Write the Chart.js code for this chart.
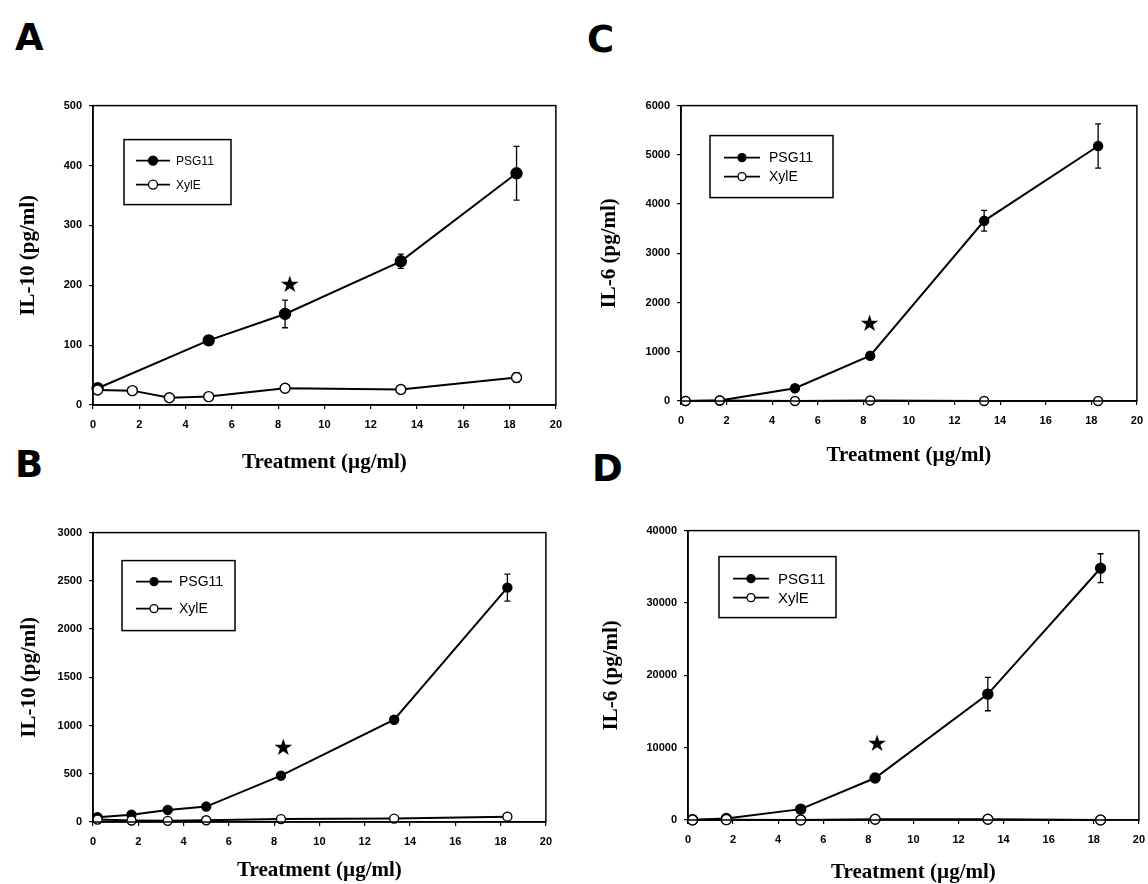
<!DOCTYPE html>
<html>
<head>
<meta charset="utf-8">
<script src="https://cdn.jsdelivr.net/npm/chart.js@4.4.1/dist/chart.umd.min.js"></script>
<style>
  body { margin: 0; background: #fff; width: 1148px; height: 884px; position: relative; overflow: hidden; }
  canvas { position: absolute; }
  .lbl { position: absolute; font: bold 37px "DejaVu Sans", Arial, sans-serif; color: #000; line-height: 1; }
</style>
</head>
<body>
<div class="lbl" style="left:15px;top:19px">A</div>
<div class="lbl" style="left:15px;top:446px">B</div>
<div class="lbl" style="left:587px;top:21px">C</div>
<div class="lbl" style="left:592px;top:450px">D</div>
<canvas id="cA"></canvas>
<canvas id="cB"></canvas>
<canvas id="cC"></canvas>
<canvas id="cD"></canvas>
<script>
// --- data ---
const seriesNames = ['PSG11', 'XylE'];

// A: IL-10, low range
const doseA_psg = [0.2, 5.0, 8.3, 13.3, 18.3];
const il10A_psg = [28, 108, 152, 240, 387];
const il10A_psgErr = [0, 8, 23, 12, 45];
const doseA_xyl = [0.2, 1.7, 3.3, 5.0, 8.3, 13.3, 18.3];
const il10A_xyl = [25, 24, 12, 14, 28, 26, 46];
const il10A_xylErr = [0, 0, 0, 0, 0, 0, 8];
const starA = { x: 8.5, y: 199 };

// B: IL-10, high range
const doseB = [0.2, 1.7, 3.3, 5.0, 8.3, 13.3, 18.3];
const il10B_psg = [50, 75, 125, 160, 480, 1060, 2430];
const il10B_psgErr = [0, 0, 0, 0, 0, 0, 140];
const il10B_xyl = [25, 15, 12, 18, 30, 35, 55];
const starB = { x: 8.4, y: 753 };

// C: IL-6, low range
const doseC = [0.2, 1.7, 5.0, 8.3, 13.3, 18.3];
const il6C_psg = [0, 10, 260, 920, 3660, 5180];
const il6C_psgErr = [0, 0, 0, 0, 210, 450];
const il6C_xyl = [0, 10, 0, 10, 0, 0];
const starC = { x: 8.27, y: 1535 };

// D: IL-6, high range
const doseD = [0.2, 1.7, 5.0, 8.3, 13.3, 18.3];
const il6D_psg = [50, 200, 1500, 5800, 17400, 34800];
const il6D_psgErr = [0, 0, 0, 0, 2300, 2000];
const il6D_xyl = [0, 50, 0, 100, 100, 0];
const starD = { x: 8.39, y: 10300 };

const xMax = 20, xStep = 2;

function pts(xs, ys) { return xs.map((x, i) => ({ x: x, y: ys[i] })); }

// error bars, star, legend and frame
const extras = {
  id: 'extras',
  beforeDatasetsDraw(chart) {
    const ctx = chart.ctx, xs = chart.scales.x, ys = chart.scales.y;
    ctx.save();
    ctx.strokeStyle = '#000';
    ctx.lineWidth = 1.3;
    chart.data.datasets.forEach(ds => {
      if (!ds.err) return;
      ds.data.forEach((p, i) => {
        const e = ds.err[i];
        if (!e) return;
        const px = xs.getPixelForValue(p.x);
        const y1 = ys.getPixelForValue(p.y + e), y2 = ys.getPixelForValue(p.y - e);
        ctx.beginPath();
        ctx.moveTo(px, y1); ctx.lineTo(px, y2);
        ctx.moveTo(px - 3, y1); ctx.lineTo(px + 3, y1);
        ctx.moveTo(px - 3, y2); ctx.lineTo(px + 3, y2);
        ctx.stroke();
      });
    });
    ctx.restore();
  },
  afterDraw(chart, args, opts) {
    const ctx = chart.ctx, a = chart.chartArea;
    const xs = chart.scales.x, ys = chart.scales.y;
    ctx.save();
    // frame
    ctx.strokeStyle = '#000';
    ctx.lineWidth = 1.5;
    ctx.strokeRect(a.left, a.top, a.right - a.left, a.bottom - a.top);
    // star
    ctx.fillStyle = '#000';
    ctx.font = '23px "DejaVu Sans"';
    ctx.textAlign = 'center';
    ctx.textBaseline = 'middle';
    ctx.fillText('\u2605', xs.getPixelForValue(opts.star.x), ys.getPixelForValue(opts.star.y));
    // legend box
    const L = opts.legend;
    const bx = a.left + L.dx, by = a.top + L.dy;
    ctx.lineWidth = 1.5;
    ctx.strokeRect(bx, by, L.w, L.h);
    ctx.font = L.font;
    ctx.textAlign = 'left';
    seriesNames.forEach((name, i) => {
      const y = by + L.rows[i];
      ctx.lineWidth = 1.6;
      ctx.beginPath();
      ctx.moveTo(bx + L.l0, y); ctx.lineTo(bx + L.l1, y);
      ctx.stroke();
      ctx.beginPath();
      ctx.arc(bx + (L.l0 + L.l1) / 2, y, L.r, 0, Math.PI * 2);
      ctx.fillStyle = i === 0 ? '#000' : '#fff';
      ctx.fill();
      ctx.lineWidth = 1.3;
      ctx.stroke();
      ctx.fillStyle = '#000';
      ctx.fillText(name, bx + L.tx, y + 1);
    });
    ctx.restore();
  }
};

const tickFont = { family: '"Liberation Sans", Arial, sans-serif', size: 11, weight: 'bold' };
const titleFont = { family: '"Liberation Serif", "Times New Roman", serif', size: 21, weight: 'bold' };

function makePanel(id, box, datasets, yMax, yStep, yTitle, star, legend) {
  const lh = titleFont.size * 1.2;
  const cLeft = Math.round(box.titleX - lh / 2);
  const cTop = box.T - 12;
  const cRight = box.R + 14;
  const cBottom = Math.round(box.titleY + lh / 2);
  const yW = box.L - cLeft, xH = cBottom - box.B;
  const cv = document.getElementById(id);
  cv.width = cRight - cLeft; cv.height = cBottom - cTop;
  cv.style.left = cLeft + 'px'; cv.style.top = cTop + 'px';
  const grid = { display: true, drawOnChartArea: false, drawTicks: true, tickLength: 4, color: '#000', lineWidth: 1.2 };
  new Chart(cv, {
    type: 'scatter',
    data: { datasets: datasets },
    options: {
      responsive: false,
      animation: false,
      layout: { padding: { top: 12, right: 14, left: 0, bottom: 0 } },
      plugins: { legend: { display: false }, tooltip: { enabled: false }, extras: { star: star, legend: legend } },
      scales: {
        x: {
          type: 'linear', min: 0, max: xMax,
          ticks: { stepSize: xStep, color: '#000', font: tickFont, padding: 9, maxRotation: 0 },
          grid: grid, border: { display: true, color: '#000', width: 1.5 },
          title: { display: true, text: 'Treatment (\u00b5g/ml)', color: '#000', font: titleFont, padding: 0 },
          afterFit: s => { s.height = xH; }
        },
        y: {
          min: 0, max: yMax,
          ticks: { stepSize: yStep, color: '#000', font: tickFont, padding: 7, callback: v => String(v) },
          grid: grid, border: { display: true, color: '#000', width: 1.5 },
          title: { display: true, text: yTitle, color: '#000', font: titleFont, padding: 0 },
          afterFit: s => { s.width = yW; }
        }
      }
    },
    plugins: [extras]
  });
}

function ds(name, data, err, filled, r) {
  return {
    label: name, data: data, err: err, showLine: true, clip: false,
    borderColor: '#000', borderWidth: 2,
    pointRadius: r, pointBorderWidth: 1.4,
    pointBackgroundColor: filled ? '#000' : '#fff', pointBorderColor: '#000'
  };
}

makePanel('cA', { L: 93, T: 104, R: 557, B: 405, titleX: 29, titleY: 462 }, [
  ds('XylE', pts(doseA_xyl, il10A_xyl), il10A_xylErr, false, 5),
  ds('PSG11', pts(doseA_psg, il10A_psg), il10A_psgErr, true, 5.5)
], 500, 100, 'IL-10 (pg/ml)', starA,
  { dx: 31, dy: 34, w: 107, h: 65, rows: [21, 45], l0: 12, l1: 46, r: 4.5, tx: 52, font: '12px "Liberation Sans", Arial, sans-serif' });

makePanel('cB', { L: 93, T: 531, R: 547, B: 822, titleX: 30, titleY: 870 }, [
  ds('XylE', pts(doseB, il10B_xyl), null, false, 4.5),
  ds('PSG11', pts(doseB, il10B_psg), il10B_psgErr, true, 4.5)
], 3000, 500, 'IL-10 (pg/ml)', starB,
  { dx: 29, dy: 28, w: 113, h: 70, rows: [21, 48], l0: 14, l1: 50, r: 4, tx: 57, font: '14px "Liberation Sans", Arial, sans-serif' });

makePanel('cC', { L: 681, T: 104, R: 1138, B: 401, titleX: 610, titleY: 455 }, [
  ds('XylE', pts(doseC, il6C_xyl), null, false, 4.5),
  ds('PSG11', pts(doseC, il6C_psg), il6C_psgErr, true, 4.5)
], 6000, 1000, 'IL-6 (pg/ml)', starC,
  { dx: 29, dy: 30, w: 123, h: 62, rows: [22, 41], l0: 14, l1: 50, r: 4, tx: 59, font: '14px "Liberation Sans", Arial, sans-serif' });

makePanel('cD', { L: 688, T: 529, R: 1140, B: 820, titleX: 612, titleY: 872 }, [
  ds('XylE', pts(doseD, il6D_xyl), null, false, 5),
  ds('PSG11', pts(doseD, il6D_psg), il6D_psgErr, true, 5)
], 40000, 10000, 'IL-6 (pg/ml)', starD,
  { dx: 31, dy: 26, w: 117, h: 61, rows: [22, 41], l0: 14, l1: 50, r: 4, tx: 59, font: '15px "Liberation Sans", Arial, sans-serif' });
</script>
</body>
</html>
